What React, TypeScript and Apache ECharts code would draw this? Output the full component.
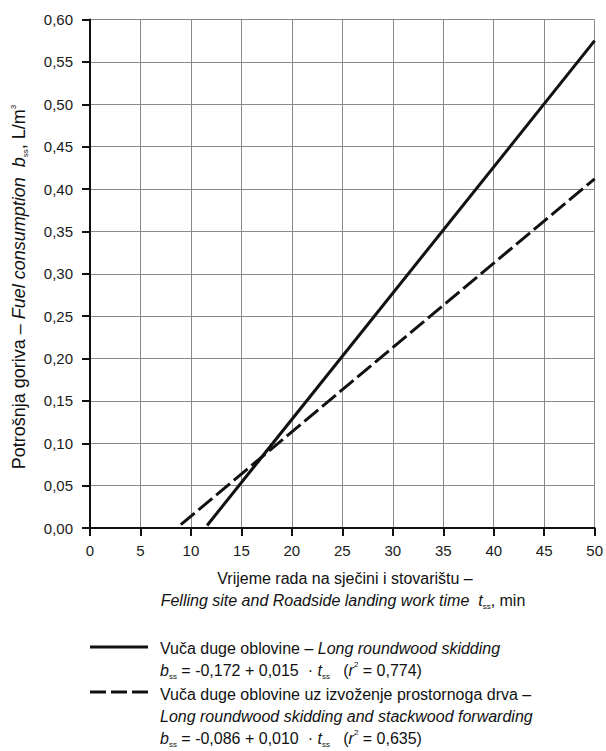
import React, { useEffect, useRef } from "react";
import * as echarts from "echarts";

const xTicks = [0, 5, 10, 15, 20, 25, 30, 35, 40, 45, 50];
const skiddingLine: [number, number][] = [
  [11.6, 0.003],
  [50, 0.575],
];
const forwardingLine: [number, number][] = [
  [9.0, 0.004],
  [50, 0.412],
];

const FONT = "'Liberation Sans', Arial, Helvetica, sans-serif";
const mkRich = (fs: number) =>
  ({
    n: { fontSize: fs, fontFamily: FONT, fill: "#111", verticalAlign: "middle", lineHeight: 20 },
    i: { fontSize: fs, fontFamily: FONT, fill: "#111", fontStyle: "italic", verticalAlign: "middle", lineHeight: 20 },
    sub: { fontSize: 8, fontFamily: FONT, fill: "#111", verticalAlign: "bottom", lineHeight: 5 },
    sup: { fontSize: 8, fontFamily: FONT, fill: "#111", verticalAlign: "top", lineHeight: 10 },
  } as any);

export default function App() {
  const ref = useRef<HTMLDivElement>(null);
  useEffect(() => {
    const chart = echarts.init(ref.current!, null, { renderer: "svg" });
    const textEl = (x: number, y: number, text: string, extra: any = {}, fs = 16) => ({
      type: "text",
      x,
      y,
      ...extra,
      style: { text, rich: mkRich(fs), verticalAlign: "middle", align: "left", ...(extra.style || {}) },
    });
    chart.setOption({
      animation: false,
      backgroundColor: "#fff",
      grid: { left: 90, right: 8, top: 19.5, bottom: 223, containLabel: false },
      xAxis: {
        type: "value",
        min: 0,
        max: 50,
        interval: 5,
        axisLine: { show: true, lineStyle: { color: "#111", width: 2 } },
        axisTick: { show: true, inside: false, length: 8, lineStyle: { color: "#111", width: 2 } },
        axisLabel: { fontSize: 15, fontFamily: FONT, color: "#1a1a1a", margin: 15, formatter: (v: number) => (xTicks.includes(v) ? String(v) : "") },
        splitLine: { show: true, lineStyle: { color: "#8a8a8a", width: 1 } },
      },
      yAxis: {
        type: "value",
        min: 0,
        max: 0.6,
        interval: 0.05,
        axisLine: { show: true, lineStyle: { color: "#111", width: 2 } },
        axisTick: { show: true, inside: false, length: 8, lineStyle: { color: "#111", width: 2 } },
        axisLabel: { fontSize: 15, fontFamily: FONT, color: "#1a1a1a", margin: 17, formatter: (v: number) => v.toFixed(2).replace(".", ",") },
        splitLine: { show: true, lineStyle: { color: "#8a8a8a", width: 1 } },
      },
      series: [
        {
          name: "Vuča duge oblovine – Long roundwood skidding",
          type: "line",
          data: skiddingLine,
          showSymbol: false,
          lineStyle: { color: "#111", width: 3 },
        },
        {
          name: "Vuča duge oblovine uz izvoženje prostornoga drva – Long roundwood skidding and stackwood forwarding",
          type: "line",
          data: forwardingLine,
          showSymbol: false,
          lineStyle: { color: "#111", width: 3, type: [18, 5] },
        },
      ],
      graphic: [
        textEl(
          19,
          287,
          "{n|Potrošnja goriva – }{i|Fuel consumption  b}{sub|ss}{n|, L/m}{sup|3}",
          { rotation: Math.PI / 2, style: { align: "center" } },
          18
        ),
        textEl(345, 578, "{n|Vrijeme rada na sječini i stovarištu –}", { style: { align: "center" } }),
        textEl(343, 600, "{i|Felling site and Roadside landing work time  t}{sub|ss}{n|, min}", { style: { align: "center" } }),
        { type: "line", shape: { x1: 90, y1: 647, x2: 148, y2: 647 }, style: { stroke: "#111", lineWidth: 3 } },
        textEl(160, 648, "{n|Vuča duge oblovine – }{i|Long roundwood skidding}"),
        textEl(160, 670, "{i|b}{sub|ss}{n| = -0,172 + 0,015  · }{i|t}{sub|ss}{n|   (}{i|r}{sup|2}{n| = 0,774)}"),
        { type: "line", shape: { x1: 90, y1: 692, x2: 148, y2: 692 }, style: { stroke: "#111", lineWidth: 3, lineDash: [16, 5] } },
        textEl(160, 694, "{n|Vuča duge oblovine uz izvoženje prostornoga drva –}"),
        textEl(160, 716, "{i|Long roundwood skidding and stackwood forwarding}"),
        textEl(160, 738, "{i|b}{sub|ss}{n| = -0,086 + 0,010  · }{i|t}{sub|ss}{n|   (}{i|r}{sup|2}{n| = 0,635)}"),
      ],
    });
    return () => chart.dispose();
  }, []);
  return <div ref={ref} style={{ width: 606, height: 751, position: "absolute", left: 0, top: 0 }} />;
}
